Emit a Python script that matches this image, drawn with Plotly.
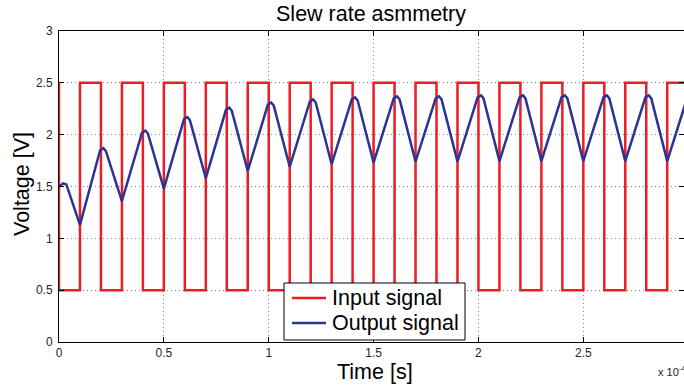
import plotly.graph_objects as go

# ---- data (time in units of 1e-4 s) ----
input_times = [0.0, 0.0, 0.1, 0.2, 0.3, 0.4, 0.5, 0.6, 0.7, 0.8, 0.9, 1.0,
               1.1, 1.2, 1.3, 1.4, 1.5, 1.6, 1.7, 1.8, 1.9, 2.0,
               2.1, 2.2, 2.3, 2.4, 2.5, 2.6, 2.7, 2.8, 2.9, 3.0]
input_values = [2.5, 0.5, 2.5, 0.5, 2.5, 0.5, 2.5, 0.5, 2.5, 0.5, 2.5, 0.5,
                2.5, 0.5, 2.5, 0.5, 2.5, 0.5, 2.5, 0.5, 2.5, 0.5,
                2.5, 0.5, 2.5, 0.5, 2.5, 0.5, 2.5, 0.5, 2.5, 0.5]

# output: start, then alternating troughs (at rising input edges) and peaks (at falling edges)
start_times = [0.0, 0.02, 0.035]
start_values = [1.50, 1.53, 1.52]
trough_times = [0.1, 0.3, 0.5, 0.7, 0.9, 1.1, 1.3, 1.5, 1.7, 1.9, 2.1, 2.3, 2.5, 2.7, 2.9]
trough_values = [1.13, 1.36, 1.48, 1.58, 1.65, 1.69, 1.715, 1.73, 1.74, 1.74,
                 1.745, 1.745, 1.745, 1.745, 1.745]
peak_times = [0.2, 0.4, 0.6, 0.8, 1.0, 1.2, 1.4, 1.6, 1.8, 2.0, 2.2, 2.4, 2.6, 2.8, 3.0]
peak_values = [1.87, 2.04, 2.17, 2.26, 2.31, 2.34, 2.36, 2.37, 2.37, 2.38,
               2.38, 2.38, 2.38, 2.38, 2.38]

series_names = ["Input signal", "Output signal"]
x_tickvals = [0, 0.5, 1, 1.5, 2, 2.5]
x_ticktext = ["0", "0.5", "1", "1.5", "2", "2.5"]
y_tickvals = [0, 0.5, 1, 1.5, 2, 2.5, 3]
y_ticktext = ["0", "0.5", "1", "1.5", "2", "2.5", "3"]

# ---- build output polyline (rounded-ish caps just after each peak edge) ----
CAP = 0.012
out_t = list(start_times)
out_v = list(start_values)
for tt, tv, pt, pv in zip(trough_times, trough_values, peak_times, peak_values):
    out_t += [tt, pt - 0.004, pt + CAP, pt + 2 * CAP]
    out_v += [tv, pv - 0.02, pv, pv - 0.03]

FONT = "Liberation Sans, Arial, Helvetica, sans-serif"
RED = "rgb(237,28,36)"
BLUE = "rgb(43,53,145)"
COLORS = [RED, BLUE]

# plot-area geometry helpers (pixels -> paper)
L, T, B, W, H = 59, 31, 46, 684, 388
PW, PH = W - L, H - T - B
def px(x):
    return (x - L) / PW
def py(y):
    return (H - B - y) / PH

fig = go.Figure()
fig.add_trace(go.Scatter(x=input_times, y=input_values, mode="lines", name=series_names[0],
                         line=dict(color=RED, width=2.5, shape="hv")))
fig.add_trace(go.Scatter(x=out_t, y=out_v, mode="lines", name=series_names[1],
                         line=dict(color=BLUE, width=2.5)))

axis_common = dict(showline=True, linecolor="black", linewidth=1, mirror="ticks",
                   ticks="inside", ticklen=5, tickcolor="black", tickwidth=1,
                   showgrid=True, gridcolor="#8a8a8a", gridwidth=1, griddash="1px,3px",
                   zeroline=False, automargin=False,
                   tickfont=dict(family=FONT, size=12, color="#262626"))

fig.update_xaxes(range=[0, 2.98], tickvals=x_tickvals, ticktext=x_ticktext, **axis_common)
fig.update_yaxes(range=[0, 3], tickvals=y_tickvals, ticktext=y_ticktext,
                 ticklabelstandoff=3, **axis_common)

# legend box drawn to match the reference layout
shapes = [dict(type="rect", xref="paper", yref="paper", x0=px(284), x1=px(465),
               y0=py(340), y1=py(283), fillcolor="white",
               line=dict(color="black", width=1), layer="above")]
annotations = []
for i, (name, col) in enumerate(zip(series_names, COLORS)):
    yc = 298 + 25 * i
    shapes.append(dict(type="line", xref="paper", yref="paper", x0=px(292), x1=px(326),
                       y0=py(yc), y1=py(yc), line=dict(color=col, width=2.5), layer="above"))
    annotations.append(dict(text=name, x=px(330), y=py(yc), xref="paper", yref="paper",
                            showarrow=False, xanchor="left", yanchor="middle",
                            font=dict(family=FONT, size=21.5, color="black")))

annotations += [
    dict(text="Voltage [V]", x=px(22), y=py(184), xref="paper", yref="paper",
         textangle=-90, showarrow=False, xanchor="center", yanchor="middle",
         font=dict(family=FONT, size=21.5, color="black")),
    dict(text="Time [s]", x=px(374.5), y=py(372), xref="paper", yref="paper",
         showarrow=False, xanchor="center", yanchor="middle",
         font=dict(family=FONT, size=21.5, color="black")),
    dict(text="x 10<sup>-4</sup>", x=px(656), y=py(371), xref="paper", yref="paper",
         showarrow=False, xanchor="left", yanchor="middle",
         font=dict(family=FONT, size=11, color="#262626")),
]

fig.update_layout(
    width=W, height=H,
    margin=dict(l=L, r=0, t=T, b=B, autoexpand=False),
    paper_bgcolor="white", plot_bgcolor="white",
    title=dict(text="Slew rate asmmetry", x=371 / W, xanchor="center",
               y=1 - 13 / H, yanchor="middle", yref="container",
               font=dict(family=FONT, size=21.5, color="black")),
    showlegend=False,
    shapes=shapes,
    annotations=annotations,
)

fig.write_html("out.html", config={"displayModeBar": False},
               post_script="document.body.style.margin='0';document.body.style.overflow='hidden';")
